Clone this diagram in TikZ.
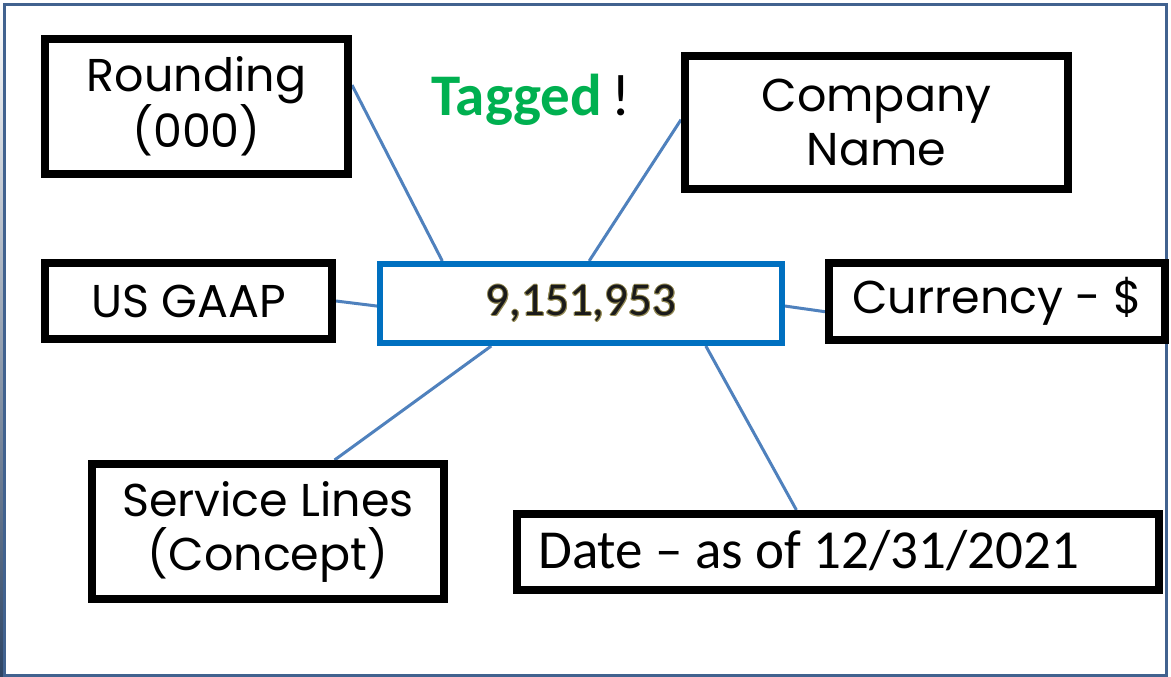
\documentclass[tikz,border=0pt]{standalone}
\usepackage{fontspec}
\setmainfont{Carlito}
\newfontfamily\gothfam{Poppins}
\usetikzlibrary{calc,backgrounds}
\definecolor{framec}{HTML}{41628F}
\definecolor{linkblue}{HTML}{4F81BD}
\definecolor{numblue}{HTML}{0070C0}
\definecolor{taggreen}{HTML}{00B050}
\definecolor{olivec}{HTML}{948A54}
\definecolor{numtext}{HTML}{1A1A1A}
\newcommand\olcopy[3]{\makebox[0pt][l]{\kern#1\raisebox{#2}{\color{olivec}#3}}}
\newcommand\outlined[1]{%
  \olcopy{1pt}{0pt}{#1}\olcopy{-1pt}{0pt}{#1}\olcopy{0pt}{1pt}{#1}\olcopy{0pt}{-1pt}{#1}%
  \olcopy{0.7pt}{0.7pt}{#1}\olcopy{0.7pt}{-0.7pt}{#1}\olcopy{-0.7pt}{0.7pt}{#1}\olcopy{-0.7pt}{-0.7pt}{#1}%
  {\color{numtext}#1}}
\begin{document}
\begin{tikzpicture}[x=1pt,y=-1pt,
  lbox/.style={draw=black,line width=8pt,fill=white,inner sep=0pt,align=center},
  conn/.style={draw=linkblue,line width=3pt},
  gothic/.style={font=\gothfam\fontsize{46}{54}\selectfont},
  numfont/.style={font=\fontsize{47}{50}\selectfont,inner sep=0pt}]
\useasboundingbox (0,0) rectangle (1171,677);
\begin{pgfonlayer}{background}
\fill[white] (0,0) rectangle (1171,677);
\end{pgfonlayer}
\shade[top color=white,middle color=numblue!70!green,bottom color=framec!70!black] (0,0) rectangle (3.5,677);
\draw[framec,line width=3pt] (4.5,4.5) rectangle (1166.5,675);

\node[lbox,gothic,minimum width=303pt,minimum height=135pt] (round) at (196.5,106.5) {Rounding\\(000)};
\node[lbox,gothic,minimum width=383pt,minimum height=133pt] (comp) at (876.5,122.5) {Company\\Name};
\node[lbox,gothic,minimum width=287pt,minimum height=76pt] (gaap) at (188.5,301) {US GAAP};
\node[lbox,gothic,minimum width=336pt,minimum height=77pt] (curr) at (997,301.5) {Currency - \$};
\node[lbox,gothic,minimum width=352pt,minimum height=135pt] (serv) at (268,531.5) {Service Lines\\(Concept)};
\node[lbox,minimum width=642pt,minimum height=76pt] (date) at (838,552) {};
\node[anchor=base west,inner sep=0pt,font=\fontsize{55}{60}\selectfont] (datetxt) at (538,568) {Date – as of 12/31/2021};

\node[draw=numblue,line width=6pt,fill=white,inner sep=0pt,minimum width=402pt,minimum height=79pt] (num) at (581,303.5) {};
\node[numfont] (numtxt) at (num.center) {\outlined{9,151,953}};

\node[anchor=base west,inner sep=0pt,font=\fontsize{59}{60}\selectfont] (tag) at (431,115) {\textcolor{taggreen}{\bfseries Tagged}\hspace{0.15em}!};

\begin{pgfonlayer}{background}
\draw[conn] ($(round.north east)!0.35!(round.south east)$) -- ($(num.north west)!0.16!(num.north east)$);
\draw[conn] ($(comp.north west)!0.48!(comp.south west)$) -- ($(num.north west)!0.52!(num.north east)$);
\draw[conn] (gaap.east) -- ($(num.north west)!0.53!(num.south west)$);
\draw[conn] ($(num.north east)!0.53!(num.south east)$) -- ($(curr.north west)!0.62!(curr.south west)$);
\draw[conn] ($(serv.north west)!0.685!(serv.north east)$) -- ($(num.south west)!0.28!(num.south east)$);
\draw[conn] ($(num.south west)!0.806!(num.south east)$) -- ($(date.north west)!0.436!(date.north east)$);
\end{pgfonlayer}
\end{tikzpicture}
\end{document}
